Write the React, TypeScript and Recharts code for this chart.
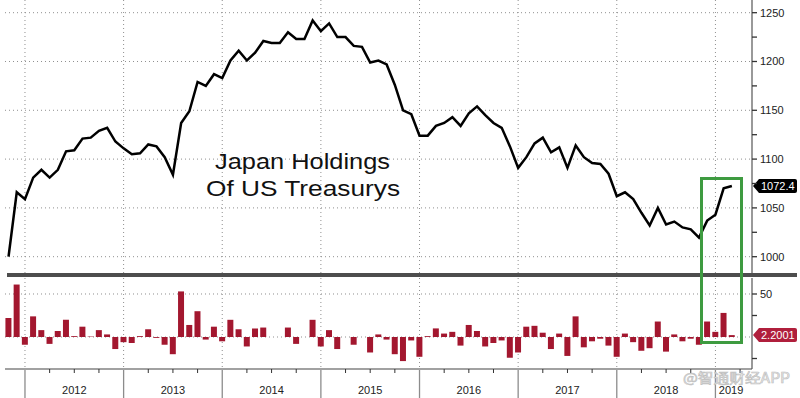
import React from "react";
import {
  LineChart,
  Line,
  BarChart,
  Bar,
  XAxis,
  YAxis,
  CartesianGrid,
  ReferenceLine,
} from "recharts";

// Japan holdings of US Treasurys, $bn, month-end (Oct 2011 .. Feb 2019)
const holdings = [
  1000, 1066, 1059, 1081, 1089, 1081, 1089, 1108, 1109, 1121,
  1122, 1129, 1132, 1118, 1111, 1105, 1106, 1115, 1113, 1102,
  1084, 1137, 1149, 1179, 1175, 1187, 1183, 1201, 1211, 1201,
  1209, 1221, 1219, 1219, 1230, 1223, 1223, 1242, 1231, 1239,
  1225, 1225, 1216, 1215, 1199, 1201, 1197, 1176, 1150, 1146,
  1124, 1124, 1134, 1137, 1143, 1134, 1147, 1154, 1145, 1137,
  1132, 1113, 1091, 1102, 1116, 1122, 1107, 1112, 1091, 1114,
  1102, 1096, 1095, 1085, 1062, 1066, 1059, 1045, 1032, 1050,
  1033, 1036, 1030, 1028, 1019.5, 1037, 1043, 1070, 1072.4,
];

// month over month change, $bn
const monthlyChange = [
  22, 61, -9, 24, 8, -8, 7, 20, 1, 12,
  0.5, 8, 3, -14, -6, -7, 1, 9, -1, -9,
  -20, 53, 14, 30, -3, 12, -5, 20, 9, -11,
  10, 11, 0, 0, 11, -8, 0, 20, -11, 8,
  -14, 0, -9, 0, -18, 3, -3, -20, -28, -4,
  -23, 1, 10, 4, 6, -10, 14, 7, -11, -7,
  -4, -24, -18, 12, 13, 5, -14, 4, -22, 24,
  -12, -5, -2, -10, -23, 4, -6, -16, -13, 18,
  -17, 3, -5, -2, -9, 18, 6, 28, 2.2001,
];

const yearStarts = [2, 14, 26, 38, 50, 62, 74, 86];
const yearLabels = ["2012", "2013", "2014", "2015", "2016", "2017", "2018", "2019"];
const yearLabelPos = [8, 20, 32, 44, 56, 68, 80, 87.9];
const quarterTicks = Array.from({ length: 30 }, (_, i) => 2 + i * 3);

const holdingsTicks = [1000, 1025, 1050, 1075, 1100, 1125, 1150, 1175, 1200, 1225, 1250];
const holdingsGrid = [1000, 1050, 1100, 1150, 1200, 1250];
const changeTicks = [-25, 25, 50];
const changeGrid = [0, 50];

const X_DOMAIN: [number, number] = [-0.43, 90.45];
const FONT = "'Liberation Sans', Arial, sans-serif";
const BAR_RED = "#a3172f";

const data = holdings.map((v, t) => ({
  t,
  month: `${2011 + Math.floor((9 + t) / 12)}-${String(((9 + t) % 12) + 1).padStart(2, "0")}`,
  holdings: v,
  change: monthlyChange[t],
}));

const lastHoldings = holdings[holdings.length - 1];
const lastChange = monthlyChange[monthlyChange.length - 1];

// eslint-disable-next-line @typescript-eslint/no-explicit-any
const ValueTick = ({ x, y, payload, every }: any) => (
  <g>
    <line x1={x} x2={x + 5} y1={y} y2={y} stroke="#333" strokeWidth={1.3} />
    {payload.value % every === 0 && (
      <text x={x + 8} y={y + 4} fontSize={11} fontFamily={FONT} fill="#222">
        {payload.value}
      </text>
    )}
  </g>
);

// eslint-disable-next-line @typescript-eslint/no-explicit-any
const YearTick = ({ x, y, payload }: any) => {
  const v = payload.value;
  const labelIdx = yearLabelPos.indexOf(v);
  return (
    <g>
      {yearStarts.includes(v) ? (
        <line x1={x} x2={x} y1={y + 1} y2={y + 29} stroke="#8c8c8c" strokeWidth={1.3} />
      ) : quarterTicks.includes(v) ? (
        <line x1={x} x2={x} y1={y} y2={y + 4} stroke="#333" strokeWidth={1} />
      ) : null}
      {labelIdx >= 0 && (
        <text x={x} y={y + 25} textAnchor="middle" fontSize={11} fontFamily={FONT} fill="#222">
          {yearLabels[labelIdx]}
        </text>
      )}
    </g>
  );
};

// eslint-disable-next-line @typescript-eslint/no-explicit-any
const Tag = ({ viewBox, text, fill }: any) => {
  const x = viewBox.x + viewBox.width + 1;
  const y = viewBox.y;
  const w = 44;
  return (
    <g>
      <path
        d={`M${x} ${y} L${x + 6} ${y - 7} H${x + w - 2} Q${x + w} ${y - 7} ${x + w} ${y - 5} V${y + 5} Q${x + w} ${y + 7} ${x + w - 2} ${y + 7} H${x + 6} Z`}
        fill={fill}
      />
      <text x={x + 8} y={y + 4} fontSize={11} fontFamily={FONT} fill="#fff">
        {text}
      </text>
    </g>
  );
};

export default function App() {
  return (
    <div style={{ position: "absolute", left: 0, top: 0, width: 800, height: 398, background: "#fff" }}>
      <div style={{ position: "absolute", left: 0, top: 0 }}>
        <LineChart width={800} height={273} data={data} margin={{ top: 0, right: 0, bottom: 0, left: 5 }}>
          <CartesianGrid
            horizontalValues={holdingsGrid}
            verticalValues={yearStarts}
            stroke="#8f8f8f"
            strokeDasharray="1 3"
          />
          <XAxis type="number" dataKey="t" domain={X_DOMAIN} allowDataOverflow hide />
          <YAxis
            orientation="right"
            width={48}
            domain={[983.3, 1263]}
            allowDataOverflow
            ticks={holdingsTicks}
            interval={0}
            tickLine={false}
            tickSize={0}
            tickMargin={0}
            axisLine={{ stroke: "#555", strokeWidth: 1.2 }}
            tick={<ValueTick every={50} />}
          />
          <Line
            type="linear"
            dataKey="holdings"
            stroke="#000"
            strokeWidth={2.5}
            dot={false}
            isAnimationActive={false}
          />
          <ReferenceLine
            y={lastHoldings}
            stroke="none"
            ifOverflow="visible"
            label={<Tag text={lastHoldings.toFixed(1)} fill="#000" />}
          />
        </LineChart>
      </div>
      <div style={{ position: "absolute", left: 0, top: 277 }}>
        <BarChart width={800} height={121} data={data} margin={{ top: 1, right: 0, bottom: 0, left: 5 }}>
          <CartesianGrid
            horizontalValues={changeGrid}
            verticalValues={yearStarts}
            stroke="#8f8f8f"
            strokeDasharray="1 3"
          />
          <XAxis
            type="number"
            dataKey="t"
            domain={X_DOMAIN}
            allowDataOverflow
            height={29}
            ticks={[...quarterTicks, 87.9]}
            interval={0}
            tickLine={false}
            tickSize={0}
            tickMargin={0}
            axisLine={{ stroke: "#444", strokeWidth: 1.2 }}
            tick={<YearTick />}
          />
          <YAxis
            orientation="right"
            width={48}
            domain={[-37.2, 68.6]}
            allowDataOverflow
            ticks={changeTicks}
            interval={0}
            tickLine={false}
            tickSize={0}
            tickMargin={0}
            axisLine={{ stroke: "#555", strokeWidth: 1.2 }}
            tick={<ValueTick every={50} />}
          />
          <Bar dataKey="change" fill={BAR_RED} barSize={6} isAnimationActive={false} />
          <ReferenceLine
            y={lastChange}
            stroke="none"
            ifOverflow="visible"
            label={<Tag text={String(lastChange)} fill="#b01f3c" />}
          />
        </BarChart>
      </div>
      <svg
        width={800}
        height={398}
        style={{ position: "absolute", left: 0, top: 0, pointerEvents: "none" }}
      >
        <rect x={7} y={273} width={790} height={4} fill="#4d4d4d" />
        <rect x={701.5} y={178.5} width={40} height={164} fill="none" stroke="#3e9b40" strokeWidth={3} />
        <text x={215} y={168.5} fontSize={22} fontFamily={FONT} fill="#111" textLength={175} lengthAdjust="spacingAndGlyphs">
          Japan Holdings
        </text>
        <text x={206} y={195.5} fontSize={22} fontFamily={FONT} fill="#111" textLength={194} lengthAdjust="spacingAndGlyphs">
          Of US Treasurys
        </text>
        <text
          x={683}
          y={383}
          fontSize={14}
          fontFamily="'Noto Sans CJK SC', sans-serif"
          fill="#ececec"
          stroke="#bdbdbd"
          strokeWidth={0.6}
          textLength={107}
          lengthAdjust="spacingAndGlyphs"
        >
          @智通财经APP
        </text>
      </svg>
    </div>
  );
}
